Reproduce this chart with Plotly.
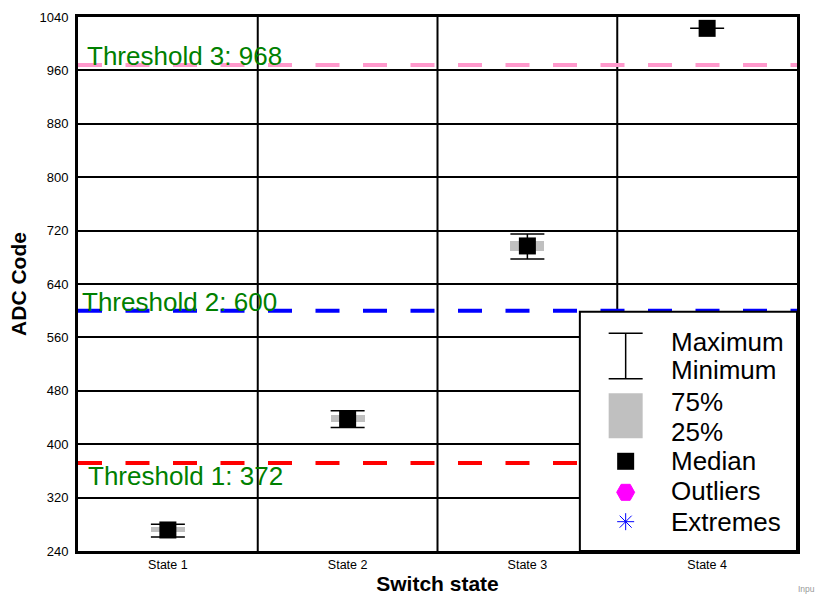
import plotly.graph_objects as go

# ---------------- data ----------------
states = ["State 1", "State 2", "State 3", "State 4"]
positions = [1, 2, 3, 4]
maximum = [280, 450, 715, 1023]
q75 = [276, 444, 704, 1023]
median = [271.5, 438, 697, 1023]
q25 = [269, 433, 689, 1023]
minimum = [261, 425, 677.5, 1023]

threshold_values = [372, 600, 968]
threshold_names = ["Threshold 1", "Threshold 2", "Threshold 3"]
threshold_colors = ["#FF0000", "#0000FF", "#FF99CC"]

y_ticks = [240, 320, 400, 480, 560, 640, 720, 800, 880, 960, 1040]
legend_labels = ["Maximum", "Minimum", "75%", "25%", "Median", "Outliers", "Extremes"]

FONT = "Arial, Liberation Sans, sans-serif"

fig = go.Figure()

# interquartile boxes
fig.add_trace(go.Bar(
    x=positions,
    base=q25,
    y=[a - b for a, b in zip(q75, q25)],
    width=0.19,
    marker=dict(color="#C0C0C0", line=dict(width=0)),
    showlegend=False,
    hoverinfo="skip",
))

# whiskers + median squares
fig.add_trace(go.Scatter(
    x=positions,
    y=median,
    mode="markers",
    marker=dict(symbol="square", size=17, color="black", line=dict(width=0)),
    error_y=dict(
        type="data",
        symmetric=False,
        array=[mx - md for mx, md in zip(maximum, median)],
        arrayminus=[md - mn for md, mn in zip(median, minimum)],
        width=17,
        thickness=1.5,
        color="black",
    ),
    showlegend=False,
))

shapes = []
# vertical separators between categories
for xb in [1.5, 2.5, 3.5]:
    shapes.append(dict(type="line", xref="x", yref="paper", x0=xb, x1=xb, y0=0, y1=1,
                       line=dict(color="black", width=2), layer="below"))

# threshold lines
for v, c in zip(threshold_values, threshold_colors):
    shapes.append(dict(type="line", xref="paper", yref="y", x0=0, x1=1, y0=v, y1=v,
                       line=dict(color=c, width=4, dash="24px,23.5px"), layer="above"))

# ---- custom legend ----
lx0, lx1, ly0, ly1 = 0.698, 1.0, 0.0, 0.448
shapes.append(dict(type="rect", xref="paper", yref="paper", x0=lx0, x1=lx1, y0=ly0, y1=ly1,
                   fillcolor="white", line=dict(color="black", width=2), layer="above"))
gx = 0.7617
# whisker glyph
shapes.append(dict(type="line", xref="paper", yref="paper", x0=gx, x1=gx, y0=0.3227, y1=0.4077,
                   line=dict(color="black", width=1.5), layer="above"))
for yy in [0.3227, 0.4077]:
    shapes.append(dict(type="line", xref="paper", yref="paper", xsizemode="pixel", xanchor=gx,
                       x0=-17, x1=17, y0=yy, y1=yy, line=dict(color="black", width=1.5), layer="above"))
# box glyph
shapes.append(dict(type="rect", xref="paper", yref="paper", xsizemode="pixel", xanchor=gx,
                   x0=-17, x1=17, y0=0.2110, y1=0.2953, fillcolor="#C0C0C0",
                   line=dict(width=0), layer="above"))
# median glyph
shapes.append(dict(type="rect", xref="paper", yref="paper", xsizemode="pixel", ysizemode="pixel",
                   xanchor=gx, yanchor=0.1680, x0=-8.5, x1=8.5, y0=-8.5, y1=8.5,
                   fillcolor="black", line=dict(width=0), layer="above"))
# outlier glyph (hexagon)
shapes.append(dict(type="path", xref="paper", yref="paper", xsizemode="pixel", ysizemode="pixel",
                   xanchor=gx, yanchor=0.1099,
                   path="M 9 0 L 4.5 8 L -4.5 8 L -9 0 L -4.5 -8 L 4.5 -8 Z",
                   fillcolor="#FF00FF", line=dict(color="#FF00FF", width=1), layer="above"))
# extremes glyph (asterisk)
shapes.append(dict(type="path", xref="paper", yref="paper", xsizemode="pixel", ysizemode="pixel",
                   xanchor=gx, yanchor=0.0549,
                   path="M 0 -8.5 L 0 8.5 M -8.5 0 L 8.5 0 M -6 -6 L 6 6 M -6 6 L 6 -6",
                   line=dict(color="#0000FF", width=1), layer="above"))

annotations = []
legend_y = [0.3923, 0.3384, 0.2796, 0.2234, 0.1689, 0.1124, 0.0549]
for lab, yy in zip(legend_labels, legend_y):
    annotations.append(dict(text=lab, xref="paper", yref="paper", x=0.822, y=yy,
                            xanchor="left", yanchor="middle", showarrow=False,
                            font=dict(family=FONT, size=26, color="black")))

# threshold labels
label_x = [0.011, 0.003, 0.010]
label_shift = [-13.5, 9, 9.5]
for name, v, xx, ys in zip(threshold_names, threshold_values, label_x, label_shift):
    annotations.append(dict(text=f"{name}: {v}", xref="paper", yref="y", x=xx, y=v, yshift=ys,
                            xanchor="left", yanchor="middle", showarrow=False,
                            font=dict(family=FONT, size=26, color="#008000")))

annotations.append(dict(text="Inpu", xref="paper", yref="paper", x=0.998, y=-0.0712,
                        xanchor="left", yanchor="middle", showarrow=False,
                        font=dict(family=FONT, size=8.5, color="#999999")))

fig.update_layout(
    width=815, height=595,
    margin=dict(l=78, r=18, t=17, b=44),
    paper_bgcolor="white",
    plot_bgcolor="white",
    showlegend=False,
    shapes=shapes,
    annotations=annotations,
    font=dict(family=FONT, color="black"),
    bargap=0,
)

fig.update_xaxes(
    range=[0.5, 4.5],
    tickmode="array", tickvals=positions, ticktext=states,
    tickfont=dict(family=FONT, size=12.5, color="black"),
    showgrid=False, zeroline=False,
    showline=True, linecolor="black", linewidth=3, mirror=True,
    ticks="", automargin=False,
    title=dict(text="<b>Switch state</b>", font=dict(family=FONT, size=21, color="black"), standoff=7),
)
fig.update_yaxes(
    range=[240, 1040],
    tickmode="array", tickvals=y_ticks, ticktext=[str(t) for t in y_ticks],
    tickfont=dict(family=FONT, size=13, color="black"),
    showgrid=True, gridcolor="black", gridwidth=2, zeroline=False,
    showline=True, linecolor="black", linewidth=3, mirror=True,
    ticks="", ticklabelstandoff=4, automargin=False,
    title=dict(text="<b>ADC Code</b>", font=dict(family=FONT, size=21, color="black"), standoff=8),
)

fig.write_html("out.html", config={"displayModeBar": False},
               post_script="document.body.style.margin='0px';")
